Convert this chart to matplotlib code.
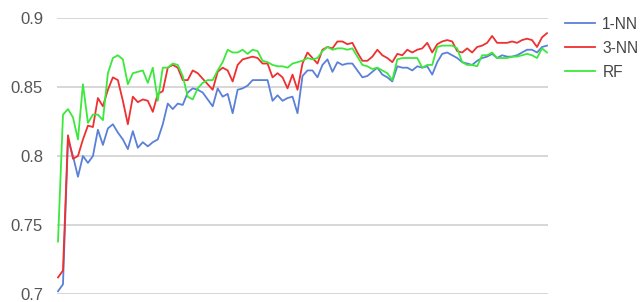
import numpy as np
import matplotlib
matplotlib.use('Agg')
import matplotlib.pyplot as plt

plt.rcParams['font.family'] = ['Liberation Sans', 'DejaVu Sans']

# accuracy per step
nn1 = [0.702, 0.707, 0.812, 0.800, 0.785, 0.800, 0.795, 0.800, 0.819, 0.808,
       0.820, 0.823, 0.817, 0.812, 0.805, 0.818, 0.806, 0.810, 0.807, 0.810,
       0.812, 0.823, 0.838, 0.834, 0.838, 0.837, 0.846, 0.849, 0.848, 0.846,
       0.841, 0.836, 0.849, 0.843, 0.845, 0.831, 0.848, 0.849, 0.851, 0.855,
       0.855, 0.855, 0.855, 0.840, 0.844, 0.840, 0.842, 0.843, 0.831, 0.858,
       0.862, 0.862, 0.857, 0.866, 0.870, 0.861, 0.868, 0.866, 0.867, 0.867,
       0.862, 0.857, 0.858, 0.861, 0.864, 0.859, 0.857, 0.854, 0.865, 0.864,
       0.864, 0.862, 0.865, 0.864, 0.865, 0.859, 0.868, 0.874, 0.875, 0.873,
       0.871, 0.868, 0.867, 0.866, 0.869, 0.871, 0.872, 0.874, 0.871, 0.873,
       0.872, 0.872, 0.873, 0.875, 0.877, 0.877, 0.875, 0.879, 0.880]

nn3 = [0.712, 0.717, 0.815, 0.798, 0.800, 0.812, 0.822, 0.821, 0.842, 0.836,
       0.848, 0.857, 0.855, 0.840, 0.823, 0.843, 0.839, 0.841, 0.840, 0.832,
       0.845, 0.847, 0.864, 0.866, 0.864, 0.855, 0.855, 0.862, 0.860, 0.856,
       0.852, 0.848, 0.861, 0.864, 0.862, 0.854, 0.866, 0.870, 0.871, 0.872,
       0.871, 0.867, 0.867, 0.857, 0.860, 0.857, 0.849, 0.859, 0.848, 0.867,
       0.875, 0.871, 0.867, 0.877, 0.879, 0.878, 0.883, 0.883, 0.881, 0.882,
       0.875, 0.869, 0.869, 0.872, 0.877, 0.873, 0.871, 0.868, 0.874, 0.873,
       0.877, 0.875, 0.877, 0.878, 0.882, 0.875, 0.881, 0.883, 0.884, 0.883,
       0.876, 0.875, 0.878, 0.875, 0.879, 0.880, 0.882, 0.887, 0.882, 0.882,
       0.882, 0.883, 0.882, 0.884, 0.885, 0.884, 0.879, 0.886, 0.889]

rf = [0.738, 0.830, 0.834, 0.828, 0.812, 0.852, 0.824, 0.830, 0.830, 0.826,
      0.860, 0.871, 0.873, 0.870, 0.852, 0.860, 0.861, 0.862, 0.853, 0.864,
      0.840, 0.864, 0.864, 0.867, 0.866, 0.858, 0.843, 0.841, 0.849, 0.853,
      0.855, 0.855, 0.862, 0.868, 0.877, 0.875, 0.875, 0.877, 0.874, 0.877,
      0.876, 0.869, 0.868, 0.866, 0.865, 0.865, 0.864, 0.867, 0.868, 0.869,
      0.871, 0.870, 0.871, 0.876, 0.879, 0.877, 0.878, 0.878, 0.877, 0.878,
      0.872, 0.866, 0.865, 0.863, 0.864, 0.862, 0.860, 0.855, 0.870, 0.871,
      0.871, 0.871, 0.871, 0.864, 0.866, 0.866, 0.879, 0.880, 0.880, 0.880,
      0.878, 0.868, 0.866, 0.866, 0.865, 0.873, 0.873, 0.875, 0.871, 0.871,
      0.871, 0.872, 0.872, 0.873, 0.874, 0.873, 0.871, 0.878, 0.875]

labels = ['1-NN', '3-NN', 'RF']
colors = ['#5a80d8', '#ee3030', '#3ce83c']
yticks = [0.7, 0.75, 0.8, 0.85, 0.9]
ytick_labels = ['0.7', '0.75', '0.8', '0.85', '0.9']

fig = plt.figure(figsize=(6.41, 3.02), dpi=100)
ax = fig.add_axes([57 / 641, 1 - 294 / 302, 491 / 641, 276 / 302])

x = np.arange(len(nn1))
for s, lab, c in zip([nn1, nn3, rf], labels, colors):
    ax.plot(x, s, color=c, lw=1.3, label=lab)

ax.set_xlim(-0.2, len(nn1) - 0.8)
ax.set_ylim(0.7, 0.9)
ax.set_yticks(yticks)
ax.set_yticklabels(ytick_labels)
ax.set_xticks([])
ax.grid(axis='y', color='#d4d4d4', lw=1.3)
ax.set_axisbelow(True)
for sp in ax.spines.values():
    sp.set_visible(False)
ax.tick_params(axis='y', length=0, pad=10, labelsize=12, labelcolor='#555555')

ax.legend(loc='upper left', bbox_to_anchor=(1.006, 1.055), frameon=False,
          fontsize=11.2, labelcolor='#444444', handlelength=1.9,
          handletextpad=0.5, labelspacing=0.58)

fig.savefig('out.png', dpi=100)
